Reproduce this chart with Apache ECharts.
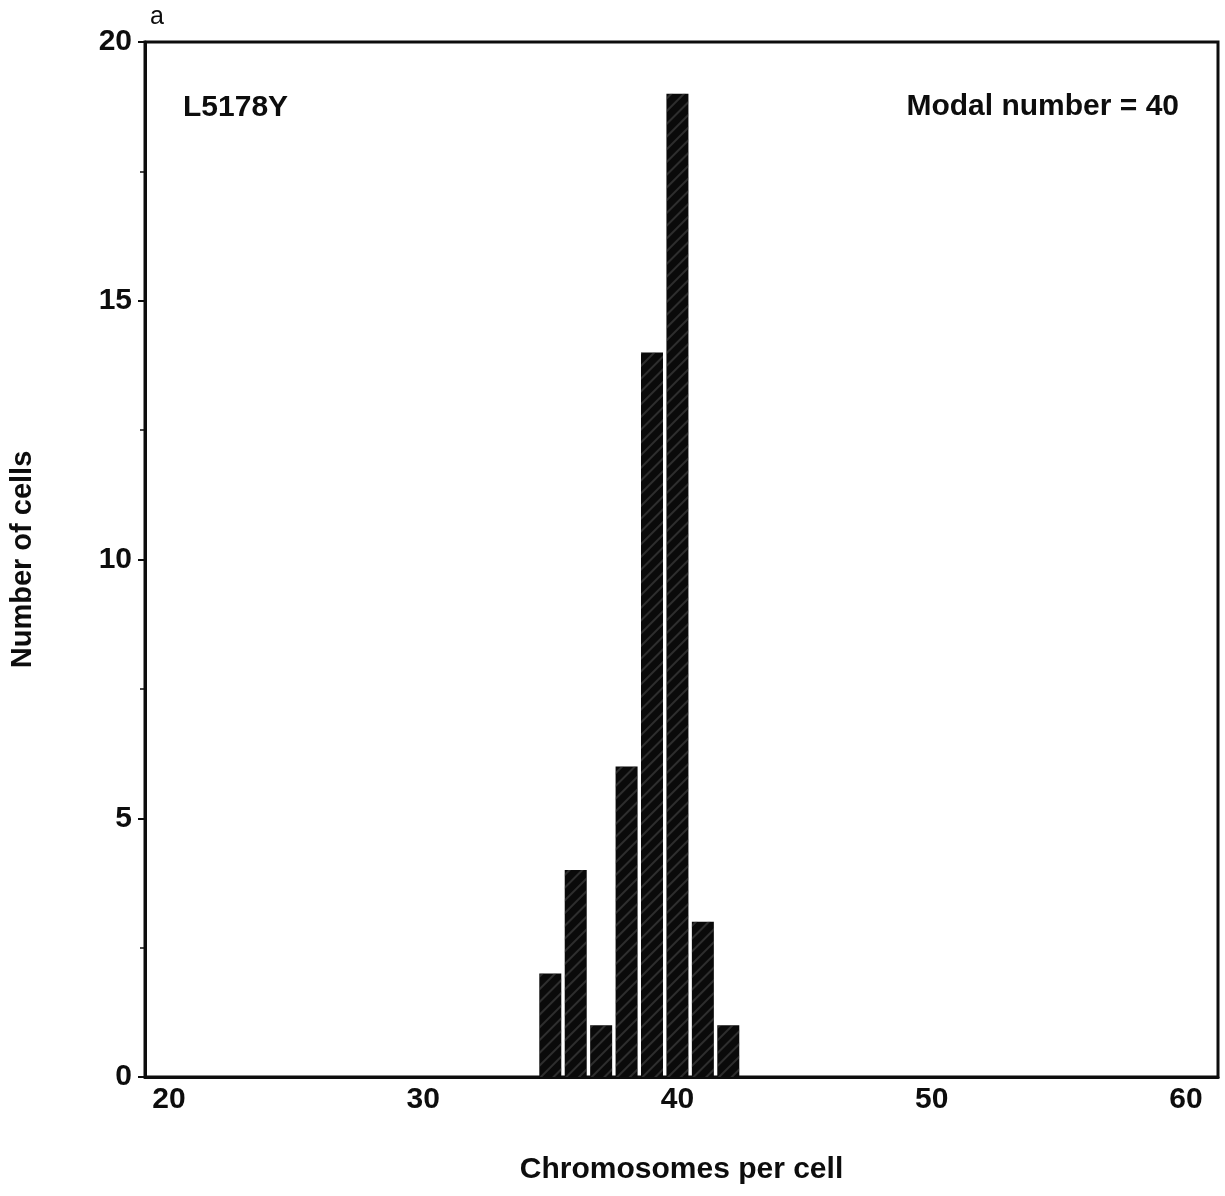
<!DOCTYPE html>
<html>
<head>
<meta charset="utf-8">
<title>L5178Y chromosomes per cell</title>
<script src="https://cdn.jsdelivr.net/npm/echarts@6/dist/echarts.min.js"></script>
<style>
  html, body { margin: 0; padding: 0; background: #fff; }
  #chart { width: 1225px; height: 1196px; }
</style>
</head>
<body>
<div id="chart"></div>
<script>
// chromosomes per cell / number of cells
var chromosomes = [35, 36, 37, 38, 39, 40, 41, 42];
var cellCounts = [2, 4, 1, 6, 14, 19, 3, 1];
var xTicks = [20, 30, 40, 50, 60];
var panelLabel = 'a';
var cellLine = 'L5178Y';
var modalNote = 'Modal number = 40';

var ink = '#0d0d0d';
var font = '"Liberation Sans", Arial, Helvetica, sans-serif';

var barData = chromosomes.map(function (c, i) {
	return [c, cellCounts[i]];
});

var chart = echarts.init(document.getElementById('chart'));
chart.setOption({
	backgroundColor: '#fff',
	animation: false,
	grid: {
		left: 142,
		right: 7,
		top: 42,
		bottom: 119,
		show: true,
		borderColor: ink,
		borderWidth: 3,
		backgroundColor: 'transparent'
	},
	xAxis: {
		type: 'value',
		min: 19.06,
		max: 61.26,
		name: 'Chromosomes per cell',
		nameLocation: 'middle',
		nameGap: 78,
		nameTextStyle: { color: ink, fontFamily: font, fontWeight: 'bold', fontSize: 30 },
		axisLine: { show: true, lineStyle: { color: ink, width: 3 } },
		axisTick: { show: false },
		splitLine: { show: false },
		axisLabel: {
			customValues: xTicks,
			color: ink,
			fontFamily: font,
			fontWeight: 'bold',
			fontSize: 30,
			margin: 8
		}
	},
	yAxis: {
		type: 'value',
		min: 0,
		max: 20,
		interval: 5,
		name: 'Number of cells',
		nameLocation: 'middle',
		nameGap: 108,
		nameTextStyle: { color: ink, fontFamily: font, fontWeight: 'bold', fontSize: 29 },
		axisLine: { show: true, lineStyle: { color: ink, width: 3 } },
		axisTick: { show: true, length: 7, lineStyle: { color: ink, width: 2 } },
		minorTick: { show: true, splitNumber: 2, length: 5, lineStyle: { color: ink, width: 1.5 } },
		splitLine: { show: false },
		minorSplitLine: { show: false },
		axisLabel: {
			color: ink,
			fontFamily: font,
			fontWeight: 'bold',
			fontSize: 30,
			margin: 13
		}
	},
	series: [{
		type: 'bar',
		data: barData,
		barWidth: 22,
		itemStyle: {
			color: '#0a0a0a',
			decal: {
				symbol: 'rect',
				color: 'rgba(100,100,100,0.4)',
				dashArrayX: [[1, 0]],
				dashArrayY: [2, 7],
				rotation: -Math.PI / 4,
				symbolSize: 1
			}
		},
		silent: true
	}],
	graphic: [{
		type: 'text',
		left: 150,
		top: 5,
		style: { text: panelLabel, fill: ink, font: 'normal 25px ' + font }
	}, {
		type: 'text',
		x: 183,
		y: 108,
		style: { text: cellLine, fill: ink, font: 'bold 30px ' + font, verticalAlign: 'middle' }
	}, {
		type: 'text',
		x: 1179,
		y: 107,
		style: { text: modalNote, fill: ink, font: 'bold 30px ' + font, align: 'right', verticalAlign: 'middle' }
	}]
});
</script>
</body>
</html>
